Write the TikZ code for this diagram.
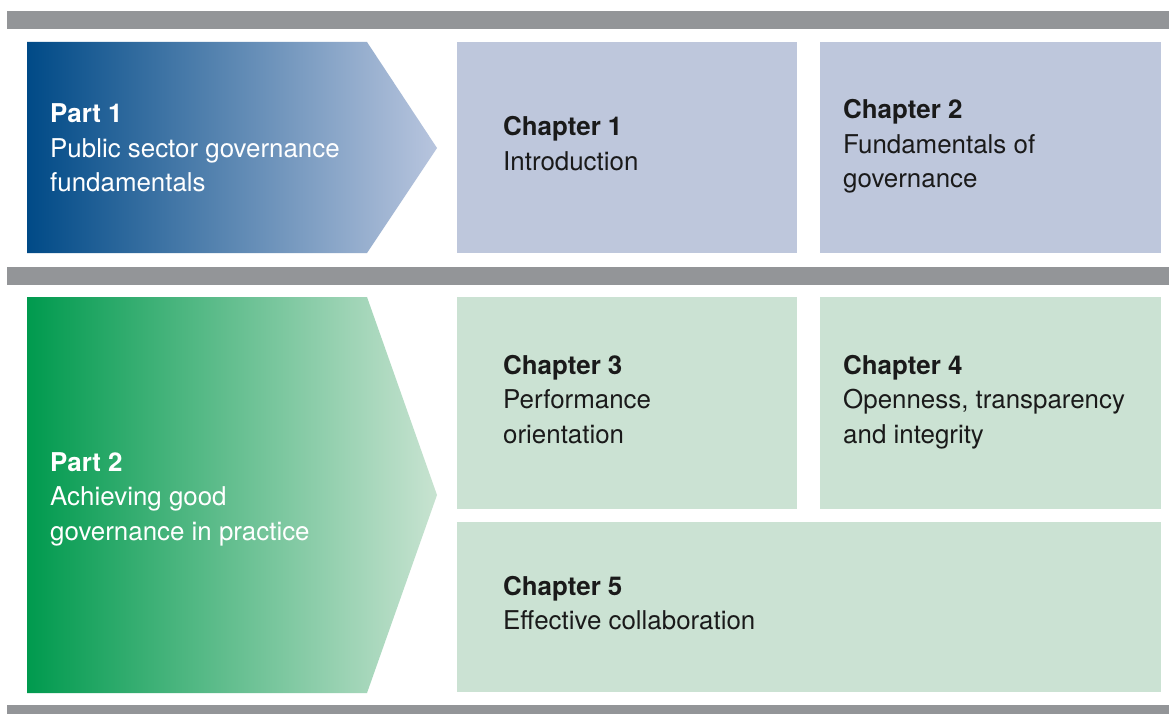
\documentclass[tikz,border=0pt]{standalone}
\usepackage{fontspec}
\setmainfont{TeX Gyre Heros}
\definecolor{bar}{HTML}{939598}
\definecolor{bluebox}{HTML}{BEC7DC}
\definecolor{greenbox}{HTML}{CBE2D3}
\definecolor{blueA}{HTML}{004A87}
\definecolor{blueB}{HTML}{B8C5DE}
\definecolor{greenA}{HTML}{009A4E}
\definecolor{greenB}{HTML}{C8E3D1}
\definecolor{ink}{HTML}{1A1A1A}
\newcommand{\blocktext}[1]{\vtop{\baselineskip=34.5pt #1}}
\begin{document}
\begin{tikzpicture}[x=1pt,y=-1pt,
  barstyle/.style={fill=bar,draw=none},
  lbl/.style={anchor=base west,inner sep=0pt,font=\fontsize{25.9}{34.5}\selectfont},
  partlbl/.style={lbl,text=white},
  chaplbl/.style={lbl,text=ink}]
\useasboundingbox (0,0) rectangle (1169,714);
\fill[white] (0,0) rectangle (1169,714);
% bars
\fill[barstyle] (7,11) rectangle (1169,29);
\fill[barstyle] (7,267) rectangle (1169,285);
\fill[barstyle] (7,705) rectangle (1169,714);
% part arrows
\shade[left color=blueA,right color=blueB] (27,42) -- (367,42) -- (437,148) -- (367,253) -- (27,253) -- cycle;
\shade[left color=greenA,right color=greenB] (27,297) -- (367,297) -- (437,495) -- (367,693) -- (27,693) -- cycle;
% chapter boxes
\fill[bluebox] (457,42) rectangle (797,253);
\fill[bluebox] (820,42) rectangle (1161,253);
\fill[greenbox] (457,297) rectangle (797,509);
\fill[greenbox] (820,297) rectangle (1161,509);
\fill[greenbox] (457,522) rectangle (1161,692);
% texts
\node[partlbl] (p1) at (50,123) {\blocktext{\hbox{\bfseries Part 1}\hbox{Public sector governance}\hbox{fundamentals}}};
\node[partlbl] (p2) at (50,471) {\blocktext{\hbox{\bfseries Part 2}\hbox{Achieving good}\hbox{governance in practice}}};
\node[chaplbl] (c1) at (503,136) {\blocktext{\hbox{\bfseries Chapter 1}\hbox{Introduction}}};
\node[chaplbl] (c2) at (843,119) {\blocktext{\hbox{\bfseries Chapter 2}\hbox{Fundamentals of}\hbox{governance}}};
\node[chaplbl] (c3) at (503,374) {\blocktext{\hbox{\bfseries Chapter 3}\hbox{Performance}\hbox{orientation}}};
\node[chaplbl] (c4) at (843,374) {\blocktext{\hbox{\bfseries Chapter 4}\hbox{Openness, transparency}\hbox{and integrity}}};
\node[chaplbl] (c5) at (503,595) {\blocktext{\hbox{\bfseries Chapter 5}\hbox{Effective collaboration}}};
\end{tikzpicture}
\end{document}
